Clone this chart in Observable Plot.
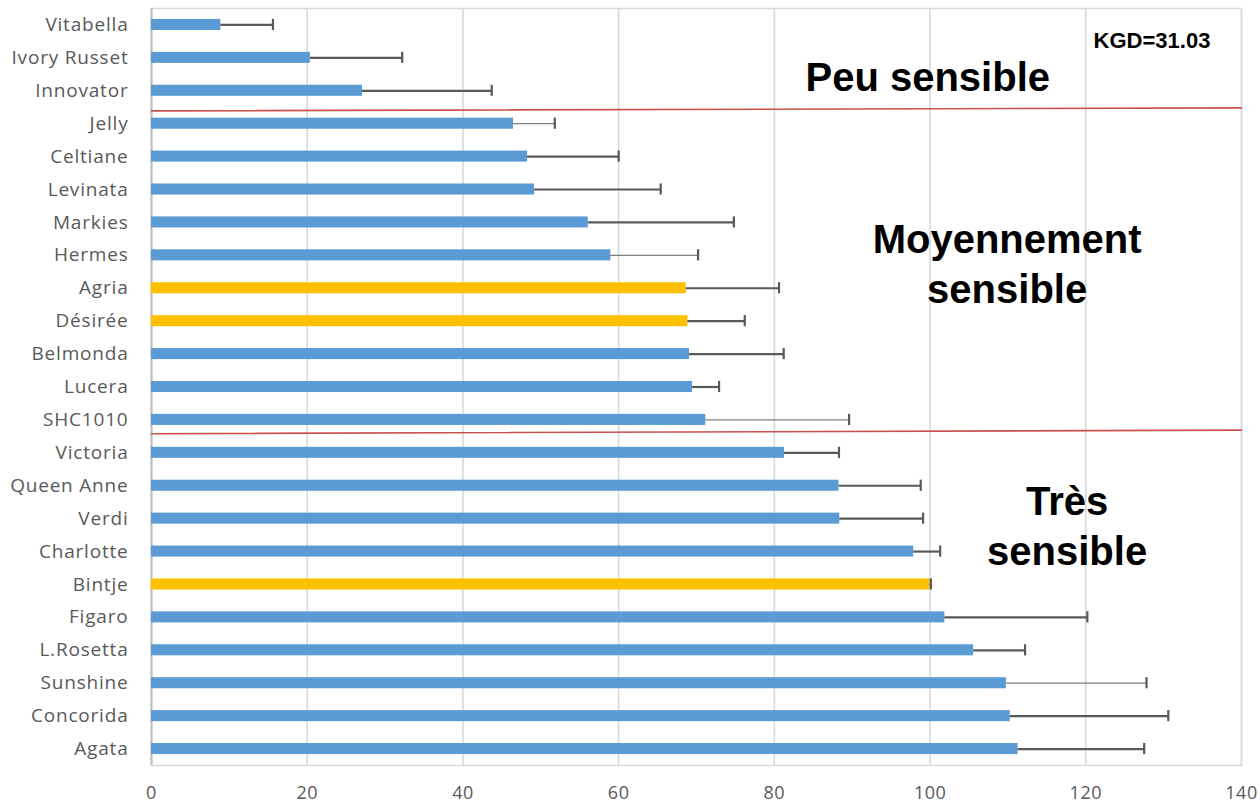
<!DOCTYPE html>
<html>
<head>
<meta charset="utf-8">
<script src="https://cdn.jsdelivr.net/npm/d3@7"></script>
<script src="https://cdn.jsdelivr.net/npm/@observablehq/plot@0.6"></script>
<style>
  html, body { margin: 0; padding: 0; background: #fff; }
  #chart { width: 1260px; height: 803px; }
  g[aria-label="y-axis tick label"] text { letter-spacing: 0.8px; }
  g[aria-label="x-axis tick label"] text { letter-spacing: 0.5px; }
  g[aria-label="group-label"] text { letter-spacing: 1.2px; }
  g[aria-label="kgd-label"] text { letter-spacing: 1px; }
</style>
</head>
<body>
<div id="chart"></div>
<script>
// ---- data ----
const varieties = ["Vitabella","Ivory Russet","Innovator","Jelly","Celtiane","Levinata","Markies","Hermes","Agria","Désirée","Belmonda","Lucera","SHC1010","Victoria","Queen Anne","Verdi","Charlotte","Bintje","Figaro","L.Rosetta","Sunshine","Concorida","Agata"];
const means = [8.9, 20.4, 27.1, 46.5, 48.3, 49.2, 56.1, 59.0, 68.7, 68.9, 69.1, 69.5, 71.2, 81.3, 88.3, 88.4, 97.9, 100.0, 101.9, 105.6, 109.8, 110.3, 111.3];
const upper = [15.6, 32.2, 43.7, 51.8, 60.0, 65.4, 74.8, 70.2, 80.6, 76.2, 81.2, 72.9, 89.6, 88.3, 98.8, 99.1, 101.3, 100.1, 120.2, 112.2, 127.8, 130.6, 127.5];
const references = ["Agria","Désirée","Bintje"];
const xTicks = [0, 20, 40, 60, 80, 100, 120, 140];
const separators = [
  [{x: 0, y: 2.61}, {x: 140, y: 2.52}],
  [{x: 0, y: 12.42}, {x: 140, y: 12.31}]
];
const groupLabels = [
  {text: "Peu sensible", x: 99.7, y: 1.52},
  {text: "Moyennement\nsensible", x: 109.9, y: 7.2},
  {text: "Très\nsensible", x: 117.6, y: 15.15}
];
const kgd = {text: "KGD=31.03", x: 128.5, y: 0.5};

// ---- build ----
const rows = varieties.map((name, i) => ({name, i, mean: means[i], upper: upper[i], ref: references.includes(name)}));
const thinErr = new Set(["Jelly","Hermes","SHC1010","Sunshine"]);
const half = 0.168, capHalf = 0.17;

const chart = Plot.plot({
  width: 1260,
  height: 803,
  marginLeft: 151,
  marginRight: 19,
  marginTop: 8,
  marginBottom: 38,
  style: {fontFamily: "'Open Sans', sans-serif", background: "#fff"},
  x: {domain: [0, 140]},
  y: {domain: [-0.5, varieties.length - 0.5], reverse: true},
  marks: [
    Plot.gridX(xTicks, {stroke: "#d9d9d9", strokeOpacity: 1, strokeWidth: 1.6}),
    Plot.frame({stroke: "#d9d9d9", strokeWidth: 1.5}),
    Plot.ruleX([0], {stroke: "#bfbfbf", strokeWidth: 2}),
    Plot.rect(rows, {x1: 0, x2: "mean", y1: d => d.i - half, y2: d => d.i + half, fill: d => d.ref ? "#ffc000" : "#5b9bd5"}),
    Plot.ruleY(rows, {y: "i", x1: "mean", x2: "upper", stroke: d => thinErr.has(d.name) ? "#7f7f7f" : "#595959", strokeWidth: d => thinErr.has(d.name) ? 1.3 : 2.2}),
    Plot.ruleX(rows, {x: "upper", y1: d => d.i - capHalf, y2: d => d.i + capHalf, stroke: "#595959", strokeWidth: 2.2}),
    ...separators.map(s => Plot.line(s, {x: "x", y: "y", stroke: "#c9504d", strokeWidth: 1.6})),
    Plot.text(groupLabels, {x: "x", y: "y", text: "text", ariaLabel: "group-label", fontFamily: "'Liberation Sans', Arial, sans-serif", fontWeight: "bold", fontSize: 40, lineHeight: 1.25, fill: "#000"}),
    Plot.text([kgd], {x: "x", y: "y", text: "text", ariaLabel: "kgd-label", fontFamily: "'Liberation Sans', Arial, sans-serif", fontWeight: "bold", fontSize: 22, fill: "#000"}),
    Plot.axisY(rows.map(d => d.i), {tickFormat: i => varieties[i], tickSize: 0, tickPadding: 23, fontSize: 19, fill: "#595959", textAnchor: "end"}),
    Plot.axisX(xTicks, {tickSize: 0, tickPadding: 21, fontSize: 18, fill: "#595959"})
  ]
});
document.getElementById("chart").appendChild(chart);
</script>
</body>
</html>
